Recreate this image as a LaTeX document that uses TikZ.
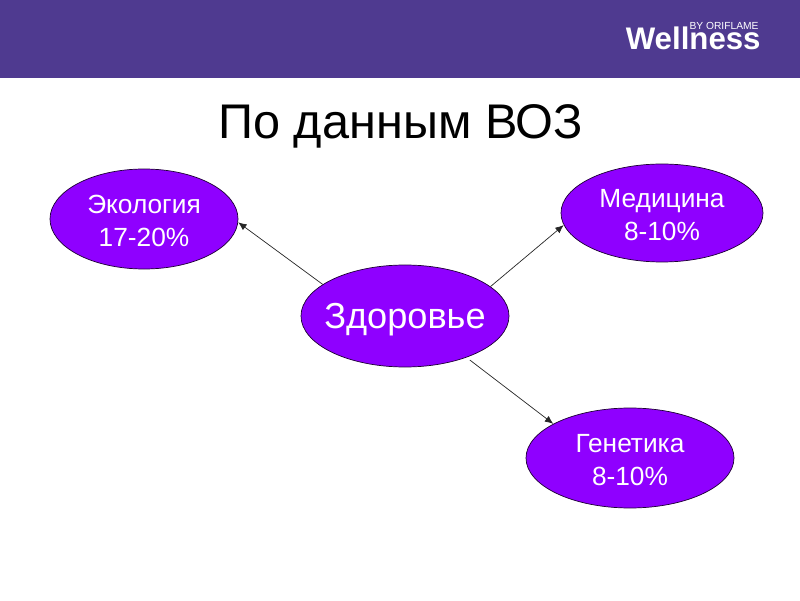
\documentclass[tikz,border=0pt]{standalone}
\usepackage{fontspec}
\setmainfont{Liberation Sans}
\definecolor{bandcolor}{HTML}{4F3A90}
\definecolor{ovalcolor}{HTML}{8F00FF}
\tikzset{
    oval/.style={ellipse, draw=black!80!ovalcolor, line width=0.5pt, fill=ovalcolor, text=white, inner sep=0pt, align=center, font=\fontsize{18.7}{23.2}\selectfont},
    link/.style={-{Latex[length=6pt,width=5pt]}, line width=0.5pt, draw=black!85}
}
\usetikzlibrary{shapes.geometric,arrows.meta}
\begin{document}
\begin{tikzpicture}
    \useasboundingbox (0,0) rectangle (20,15);

    % Полоса сверху
    \fill[bandcolor] (0,13.05) rectangle (20,15);
    \node[text=white, font=\bfseries\fontsize{22.2}{22.2}\selectfont, inner sep=0pt] (logo) at (17.33,14.05) {Wellness};
    \node[text=white, font=\fontsize{7.3}{7.3}\selectfont, inner sep=0pt] (logotag) at (18.1,14.35) {BY ORIFLAME};

    % Заголовок
    \node[font=\fontsize{34.6}{34.6}\selectfont, inner sep=0pt] (title) at (10.02,11.85) {По данным ВОЗ};

    % Центральный овал
    \node[oval, minimum width=5.2cm, minimum height=2.55cm, inner xsep=-8pt, font=\fontsize{25.7}{25.7}\selectfont] (health) at (10.125,7.1) {\rule{0pt}{23pt}Здоровье};

    % Овалы вокруг него
    \foreach \name/\x/\y/\w/\h/\label in {
        ecology/3.6/9.525/4.7/2.5/{Экология\\17-20\%},
        medicine/16.55/9.675/5.05/2.45/{Медицина\\8-10\%},
        genetics/15.75/3.55/5.2/2.5/{Генетика\\8-10\%}} {
        \node[oval, minimum width=\w cm, minimum height=\h cm] (\name) at (\x,\y) {\rule{0pt}{15.5pt}\label};
    }

    % Стрелки
    \draw[link] (health.159) -- (ecology.-2);
    \draw[link] (health.19) -- (medicine.187);
    \draw[link, shorten <=3pt] (health.-34) -- (genetics.156);
\end{tikzpicture}
\end{document}
